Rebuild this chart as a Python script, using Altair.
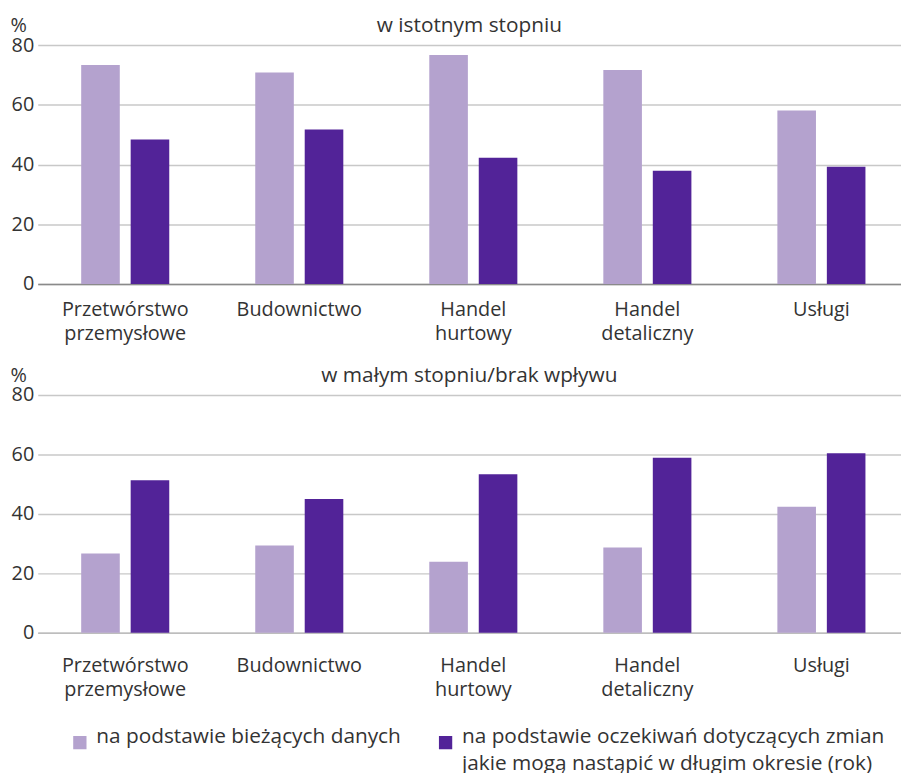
import altair as alt
import pandas as pd

categories = ["Przetwórstwo przemysłowe", "Budownictwo", "Handel hurtowy",
              "Handel detaliczny", "Usługi"]
series = ["na podstawie bieżących danych",
          "na podstawie oczekiwań dotyczących zmian jakie mogą nastąpić w długim okresie (rok)"]
top_current = [73.3, 70.8, 76.7, 71.7, 58.1]
top_expected = [48.4, 51.7, 42.3, 37.9, 39.3]
bottom_current = [26.7, 29.4, 23.9, 28.7, 42.4]
bottom_expected = [51.3, 45.0, 53.3, 58.9, 60.4]
y_ticks = [0, 20, 40, 60, 80]
colors = ["#b4a2ce", "#522398"]
FONT = "Open Sans"
TXT = "#333333"
FS = 20


def make_df(cur, exp):
    rows = []
    for c, a, b in zip(categories, cur, exp):
        rows.append({"category": c, "series": series[0], "value": a})
        rows.append({"category": c, "series": series[1], "value": b})
    return pd.DataFrame(rows)


legend_expr = ("indexof(datum.label, ' jakie') > 0 ? "
               "[substring(datum.label, 0, indexof(datum.label, ' jakie')), "
               "substring(datum.label, indexof(datum.label, ' jakie') + 1)] : [datum.label, ' ']")


def panel(cur, exp, title, height, lab_pad, dom_color):
    df = make_df(cur, exp)
    return alt.Chart(df, title=alt.Title(title, fontSize=21, font=FONT, color=TXT,
                                         fontWeight="normal", anchor="middle", offset=-21)).mark_bar().encode(
        x=alt.X("category:N", sort=categories,
                scale=alt.Scale(paddingInner=0.494, paddingOuter=0.227, align=0.55),
                axis=alt.Axis(title=None, labelAngle=0, labelExpr="split(datum.label, ' ')",
                              ticks=False, labelFontSize=FS, labelPadding=lab_pad,
                              labelLineHeight=24, labelColor=TXT, labelFont=FONT,
                              domainColor=dom_color, domainWidth=1.5, labelBaseline="middle")),
        xOffset=alt.XOffset("series:N", sort=series, scale=alt.Scale(paddingInner=0.22)),
        y=alt.Y("value:Q", scale=alt.Scale(domain=[0, 80]),
                axis=alt.Axis(values=y_ticks, title="%", titleAngle=0, titleAlign="left",
                              titleBaseline="bottom", titleX=-28, titleY=-10,
                              titleFontSize=FS, titleFontWeight="normal", titleColor=TXT,
                              titleFont=FONT, labelFont=FONT, labelFontSize=FS,
                              labelColor=TXT, domain=False, ticks=False, labelPadding=4,
                              gridColor="#c8c8c8", gridWidth=1.5)),
        color=alt.Color("series:N", sort=series,
                        scale=alt.Scale(domain=series, range=colors),
                        legend=alt.Legend(title=None, orient="none", legendX=32, legendY=693,
                                          direction="horizontal",
                                          columns=2, labelExpr=legend_expr,
                                          labelFontSize=21, labelFont=FONT, labelColor=TXT,
                                          labelLimit=600, symbolType="square",
                                          symbolSize=180, symbolStrokeWidth=0,
                                          columnPadding=34, labelBaseline="alphabetic",
                                          labelOffset=6))
    ).properties(width=871, height=height)


top = panel(top_current, top_expected, "w istotnym stopniu", 241, 26, "#8a8a8a")
bottom = panel(bottom_current, bottom_expected, "w małym stopniu/brak wpływu", 240, 33, "#bdbdbd")

chart = alt.vconcat(top, bottom, spacing=22).resolve_scale(color="shared").properties(
    padding={"left": 2, "top": 4, "right": 0, "bottom": 0}
).configure(font=FONT, view=alt.ViewConfig(stroke=None),
            style={"guide-label": {"lineHeight": 28}})

chart.save("out.html", embed_options={"renderer": "svg", "actions": False})
